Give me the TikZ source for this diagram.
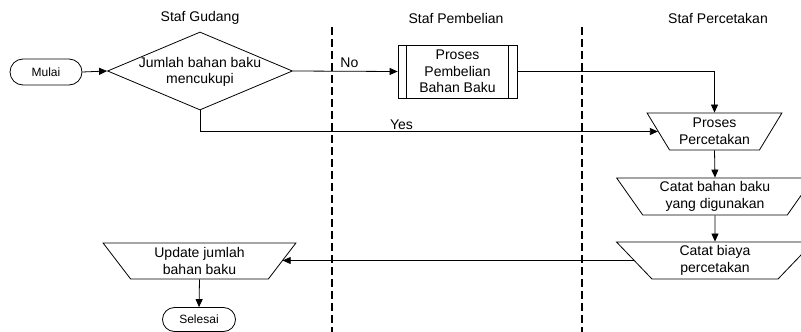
\documentclass[tikz,border=0pt]{standalone}
\usepackage{fontspec}
\setmainfont{Liberation Sans}
\usetikzlibrary{shapes.geometric,shapes.misc,arrows.meta}
\begin{document}
\begin{tikzpicture}[x=1pt,y=-1pt,
  every node/.style={font=\fontsize{14}{16.5}\selectfont, inner sep=0pt, align=center},
  line/.style={line width=0.8pt},
  arr/.style={line, -{Triangle[length=8pt,width=7pt]}},
  term/.style={draw, line width=0.8pt, rounded rectangle, minimum width=72pt, minimum height=26pt, font=\fontsize{12}{14}\selectfont},
  trap/.style={draw, line width=0.8pt, trapezium, trapezium angle=56, shape border rotate=180, trapezium stretches=true},
  lane/.style={line width=1.3pt, dash pattern=on 8pt off 4pt},
  proc/.style={draw, line width=0.8pt, rectangle, minimum width=119pt, minimum height=53pt},
  dia/.style={draw, line width=0.8pt, diamond, minimum width=185pt, minimum height=78pt},
]
\useasboundingbox (0,0) rectangle (801,332);

% lane titles
\node (t1) at (200,18) {Staf Gudang};
\node (t2) at (456,18) {Staf Pembelian};
\node (t3) at (718,18) {Staf Percetakan};

% lane separators
\coordinate (l1a) at (332,27); \coordinate (l1b) at (332,332);
\coordinate (l2a) at (582,27); \coordinate (l2b) at (582,332);
\draw[lane] (l1a) -- (l1b);
\draw[lane] (l2a) -- (l2b);

% nodes
\node[term] (mulai) at (46,72) {Mulai};
\node[dia] (d) at (200,71) {};
\node (dt) at (200,72) {Jumlah bahan baku\\mencukupi};
\node[proc] (pb) at (457.5,71.5) {Proses\\Pembelian\\Bahan Baku};
\draw[line] ([xshift=9pt]pb.north west) -- ([xshift=9pt]pb.south west);
\draw[line] ([xshift=-9pt]pb.north east) -- ([xshift=-9pt]pb.south east);

\node[trap, minimum width=135pt, minimum height=37pt] (pp) at (714.5,131.5) {Proses\\Percetakan};
\node[trap, minimum width=197pt, minimum height=37pt] (cb) at (715,196.5) {Catat bahan baku\\yang digunakan};
\node[trap, minimum width=197pt, minimum height=37pt] (cbi) at (715,260.5) {Catat biaya\\percetakan};
\node[trap, minimum width=193pt, minimum height=36pt] (upd) at (199.5,261) {Update jumlah\\bahan baku};
\node[term, minimum width=73pt, minimum height=24pt] (sel) at (199,319.5) {Selesai};

% connectors
\draw[arr] (mulai.east) -- (d.west);
\draw[arr] (d.east) -- node[pos=0.54, above=3pt] (no) {No} (pb.west);
\draw[arr] (pb.east) -| (pp.north);
\draw[arr] (d.south) |- node[pos=0.72, above=1pt] (yes) {Yes} (pp.west);
\draw[arr] (pp.south) -- (cb.north);
\draw[arr] (cb.south) -- (cbi.north);
\draw[arr] (cbi.west) -- (cbi.west -| upd.east);
\draw[arr] (upd.south) -- (sel.north);
\end{tikzpicture}
\end{document}
